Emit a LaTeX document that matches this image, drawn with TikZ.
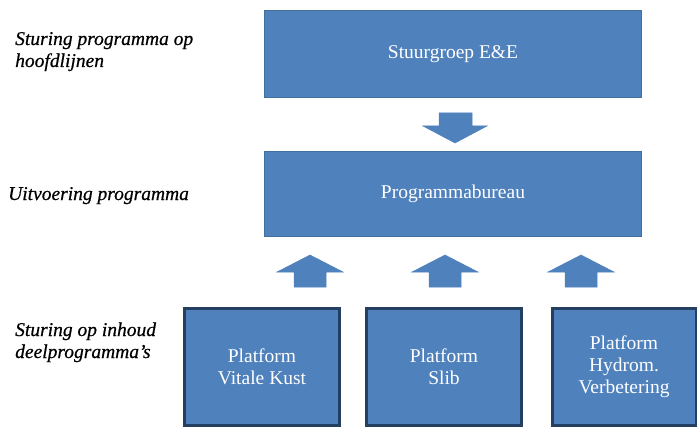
\documentclass[tikz,border=0pt]{standalone}
\usepackage{fontspec}
\setmainfont{Liberation Serif}
\newfontfamily\schuin{Liberation Serif}[FakeBold=0.6,Ligatures=TeX]
\usepackage{tikz}

\definecolor{blok}{HTML}{4F81BD}
\definecolor{rand}{HTML}{41719C}
\definecolor{donker}{HTML}{243F60}

\tikzset{
  kader/.style={rectangle, fill=blok, draw=rand, line width=0.8pt, inner sep=0pt,
    text=white, align=center, font=\fontsize{19.5}{22}\selectfont},
  platform/.style={kader, draw=donker, line width=3pt},
  uitleg/.style={inner sep=0pt, align=left, anchor=base west,
    font=\fontsize{19.5}{22}\selectfont\schuin\itshape},
  pijl/.style={fill=blok, draw=blok, line width=0.5pt, line join=miter}
}

\begin{document}
\begin{tikzpicture}[x=1pt,y=-1pt]
\useasboundingbox (0,0) rectangle (697,428);

\node[kader, minimum width=377, minimum height=87] (SG) at (453,54) {Stuurgroep E\&E};
\node[kader, minimum width=377, minimum height=85] (PB) at (453,194) {Programmabureau};

\node[platform, minimum width=155, minimum height=117] (P1) at (262,367) {Platform\\Vitale Kust};
\node[platform, minimum width=155, minimum height=117] (P2) at (444,367) {Platform\\Slib};
\node[platform, minimum width=144, minimum height=117] (P3) at (624,367) {Platform\\Hydrom.\\Verbetering};

% basislijn van de laatste regel
\node[uitleg] (T1) at (15,67) {Sturing programma op\\hoofdlijnen};
\node[uitleg] (T2) at (8,200) {Uitvoering programma};
\node[uitleg] (T3) at (15,358) {Sturing op inhoud\\deelprogramma's};

% pijl omlaag
\coordinate (A0) at (455,143);
\fill[pijl] (A0) -- ++(-32,-17) -- ++(16,0) -- ++(0,-13) -- ++(33,0)
  -- ++(0,13) -- ++(15,0) -- cycle;

% pijlen omhoog
\foreach \x in {310,445,581}
  \fill[pijl] (\x,255) -- ++(-33,17) -- ++(17,0) -- ++(0,15) -- ++(32,0)
    -- ++(0,-15) -- ++(17,0) -- cycle;
\end{tikzpicture}
\end{document}
